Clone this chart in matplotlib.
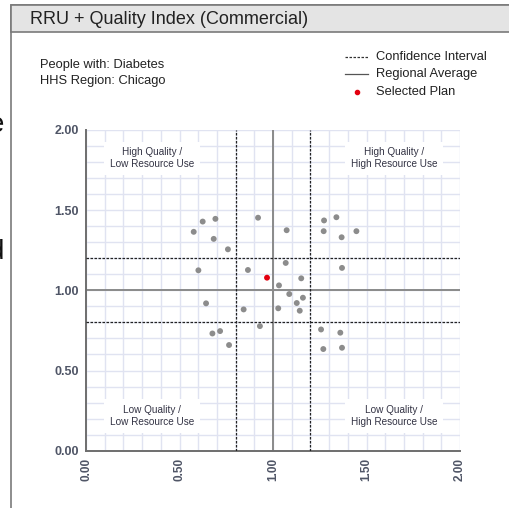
"""RRU + Quality Index quadrant chart (Commercial, Diabetes, Chicago)."""

import matplotlib

matplotlib.use("Agg")
import matplotlib.pyplot as plt
import numpy as np
from matplotlib.lines import Line2D
from matplotlib.patches import Rectangle

plt.rcParams["font.family"] = ["Liberation Sans", "DejaVu Sans"]

# other plans in the region: resource use (x) vs quality (y)
plan_rru = [0.624, 0.692, 0.576, 0.683, 0.759, 0.920, 0.601, 0.866, 0.642, 0.843,
            0.930, 0.676, 0.717, 0.765, 1.273, 1.339, 1.073, 1.271, 1.367, 1.446,
            1.068, 1.369, 1.151, 1.032, 1.087, 1.160, 1.127, 1.028, 1.143, 1.257,
            1.360, 1.269, 1.369]
plan_quality = [1.429, 1.446, 1.365, 1.321, 1.256, 1.453, 1.125, 1.127, 0.919, 0.881,
                0.777, 0.731, 0.746, 0.659, 1.436, 1.456, 1.375, 1.369, 1.331, 1.369,
                1.171, 1.140, 1.075, 1.031, 0.977, 0.954, 0.921, 0.888, 0.873, 0.756,
                0.736, 0.634, 0.642]

selected_rru = [0.968]
selected_quality = [1.079]

regional_average = 1.0
ci_bounds = [0.8, 1.2]

tick_values = [0.0, 0.5, 1.0, 1.5, 2.0]
tick_labels = ["0.00", "0.50", "1.00", "1.50", "2.00"]

quadrant_labels = [
    (0.353, 1.823, "High Quality /\nLow Resource Use"),
    (1.647, 1.823, "High Quality /\nHigh Resource Use"),
    (0.353, 0.217, "Low Quality /\nLow Resource Use"),
    (1.647, 0.217, "Low Quality /\nHigh Resource Use"),
]

W, H = 509, 508
fig = plt.figure(figsize=(W / 100, H / 100), dpi=100)
fig.patch.set_facecolor("white")


def px(x0, y0, w, h):
    """Convert a pixel box (top-left origin) to figure fractions."""
    return [x0 / W, 1 - (y0 + h) / H, w / W, h / H]


# panel frame and title bar
frame = fig.add_axes([0, 0, 1, 1], zorder=0)
frame.set_xlim(0, W)
frame.set_ylim(H, 0)
frame.axis("off")
frame.add_patch(Rectangle((11, 5), W + 10, H + 10, facecolor="white",
                          edgecolor="#7a7a7a", linewidth=1.2))
frame.add_patch(Rectangle((11, 5), W + 10, 27, facecolor="#e4e4e4",
                          edgecolor="#7a7a7a", linewidth=1.2))
frame.text(30, 19, "RRU + Quality Index (Commercial)", fontsize=13,
           color="#222222", va="center", ha="left")
frame.text(40, 65, "People with: Diabetes", fontsize=9.3, color="#222222", va="center")
frame.text(40, 81, "HHS Region: Chicago", fontsize=9.3, color="#222222", va="center")

# legend drawn by hand to match the layout
frame.add_line(Line2D([345, 368], [57, 57], color="#333333", linewidth=0.9,
                      linestyle=(0, (2, 1.2))))
frame.text(376, 57, "Confidence Interval", fontsize=9.3, color="#222222", va="center")
frame.add_line(Line2D([345, 368], [74, 74], color="#555555", linewidth=0.9))
frame.text(376, 74, "Regional Average", fontsize=9.3, color="#222222", va="center")
frame.plot([357], [92], "o", color="#e3000f", markersize=3)
frame.text(376, 92, "Selected Plan", fontsize=9.3, color="#222222", va="center")

# cut-off text from the neighbouring slide content
frame.text(4, 125, "e", fontsize=20, ha="right", va="center", color="#111111")
frame.text(4, 252, "d", fontsize=20, ha="right", va="center", color="#111111")

ax = fig.add_axes(px(86, 130, 374, 320.7), zorder=1)
ax.set_xlim(0, 2)
ax.set_ylim(0, 2)
ax.set_facecolor("white")

minor = np.round(np.arange(0, 2.01, 0.1), 2)
for v in minor:
    ax.axvline(v, color="#e0e3f1", linewidth=1.0, zorder=0)
    ax.axhline(v, color="#e0e3f1", linewidth=1.0, zorder=0)

for x, y, label in quadrant_labels:
    ax.text(x, y, label, ha="center", va="center", fontsize=7.2, color="#333344",
            linespacing=1.25,
            bbox=dict(facecolor="white", edgecolor="none", pad=4), zorder=2)

ax.axvline(regional_average, color="#8a8a8a", linewidth=1.4, zorder=1)
ax.axhline(regional_average, color="#8a8a8a", linewidth=1.4, zorder=1)
for b in ci_bounds:
    ax.axvline(b, color="#222222", linewidth=0.9, linestyle=(0, (2, 1.2)), zorder=3)
    ax.axhline(b, color="#222222", linewidth=0.9, linestyle=(0, (2, 1.2)), zorder=3)

ax.scatter(plan_rru, plan_quality, s=18, color="#8c8c8c", edgecolors="none", zorder=4)
ax.scatter(selected_rru, selected_quality, s=18, color="#e3000f", edgecolors="none", zorder=5)

for side in ["top", "right"]:
    ax.spines[side].set_visible(False)
for side in ["left", "bottom"]:
    ax.spines[side].set_color("#6e6e6e")
    ax.spines[side].set_linewidth(1.4)

ax.set_xticks(tick_values)
ax.set_yticks(tick_values)
ax.set_xticklabels(tick_labels, rotation=90, fontsize=8.5, fontweight="bold", color="#4f5566")
ax.set_yticklabels(tick_labels, fontsize=9, fontweight="bold", color="#4f5566")
ax.tick_params(length=0, pad=5)

fig.savefig("out.png", dpi=100)
plt.close(fig)
